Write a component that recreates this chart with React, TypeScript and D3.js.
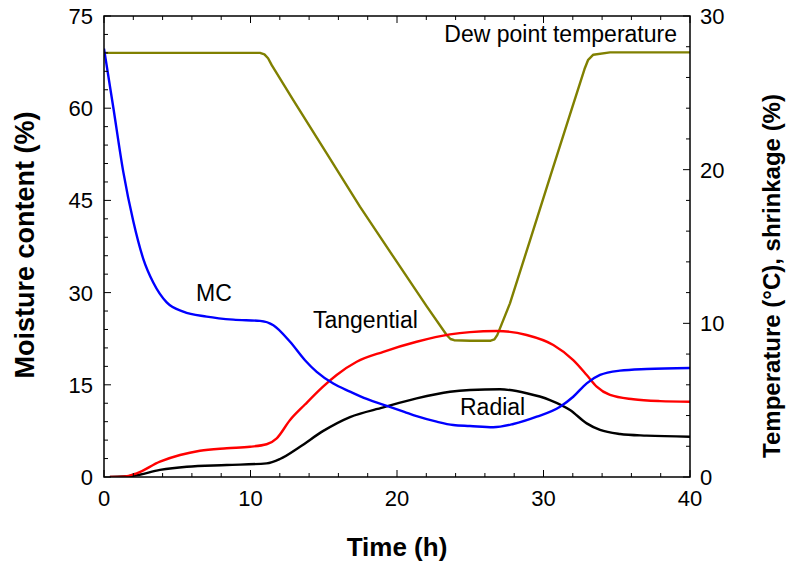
import React from "react";
import * as d3 from "d3";

const timeMC = [0, 0.63, 1.32, 2.0, 2.68, 3.37, 4.28, 5.41, 7.01, 8.83, 10.65, 11.56, 12.7, 13.72, 14.52, 15.65, 16.79, 17.93, 19.41, 20.5, 21.34, 22.71, 23.84, 24.98, 26.57, 27.94, 29.54, 31.13, 32.03, 32.95, 33.86, 35.22, 37.04, 40];
const mcValues = [69.7, 60.2, 49.6, 41.6, 35.5, 31.6, 28.4, 26.9, 26.1, 25.6, 25.4, 24.7, 22.0, 19.0, 17.1, 15.2, 13.9, 12.7, 11.5, 10.6, 9.9, 9.0, 8.46, 8.3, 8.09, 8.62, 9.81, 11.44, 13.06, 15.24, 16.6, 17.3, 17.57, 17.73];

const timeTan = [0.4, 1.32, 2.23, 3.82, 5.19, 6.55, 8.38, 9.97, 11.1, 11.79, 12.7, 13.7, 14.97, 15.88, 17.25, 19.07, 21.34, 23.62, 24.98, 26.8, 28.85, 30.67, 32.03, 32.95, 33.63, 34.54, 36.13, 37.95, 40];
const tangential = [0, 0.02, 0.24, 1.0, 1.43, 1.71, 1.87, 1.97, 2.13, 2.52, 3.71, 4.7, 5.9, 6.64, 7.5, 8.15, 8.8, 9.28, 9.43, 9.5, 9.24, 8.59, 7.61, 6.64, 5.88, 5.34, 5.06, 4.94, 4.9];

const timeRad = [0.4, 2.0, 3.82, 5.65, 8.38, 11.1, 12.01, 13.38, 14.97, 16.79, 19.07, 21.34, 23.62, 24.98, 27.03, 28.85, 30.44, 31.81, 32.95, 33.86, 35.22, 37.04, 40];
const radial = [0, 0.08, 0.46, 0.67, 0.78, 0.89, 1.17, 1.97, 3.0, 3.9, 4.53, 5.12, 5.55, 5.66, 5.71, 5.45, 5.01, 4.36, 3.49, 3.06, 2.8, 2.69, 2.62];

const timeDew = [0.07, 10.65, 10.95, 11.2, 11.45, 12.92, 15.2, 17.47, 19.75, 22.03, 23.39, 23.65, 23.9, 24.98, 26.4, 26.65, 26.85, 27.71, 29.08, 30.44, 31.81, 32.8, 33.05, 33.4, 34.54, 40];
const dewPoint = [27.6, 27.6, 27.5, 27.25, 26.8, 24.53, 21.06, 17.59, 14.34, 11.1, 9.24, 8.98, 8.9, 8.87, 8.87, 8.95, 9.25, 11.3, 15.4, 19.5, 23.6, 26.55, 27.15, 27.48, 27.63, 27.63];

const xTicks = [0, 10, 20, 30, 40];
const leftTicks = [0, 15, 30, 45, 60, 75];
const rightTicks = [0, 10, 20, 30];

const W = 788, H = 567;
const L = 104, R = 690, T = 16, B = 477;
const FONT = "'Liberation Sans', Arial, Helvetica, sans-serif";

export default function App() {
  const x = d3.scaleLinear().domain([0, 40]).range([L, R]);
  const yL = d3.scaleLinear().domain([0, 75]).range([B, T]);
  const yR = d3.scaleLinear().domain([0, 30]).range([B, T]);

  const mk = (ts: number[], vs: number[], ys: d3.ScaleLinear<number, number>, curve: any) =>
    d3.line<number>().x((_, i) => x(ts[i])).y((v) => ys(v)).curve(curve)(vs) || "";

  const xMinor = d3.range(0, 40.001, 2);
  const lMinor = d3.range(0, 75.001, 3);
  const rMinor = d3.range(0, 30.001, 2);

  const tickLen = (major: boolean) => (major ? 7 : 4);

  return (
    <svg width={W} height={H} style={{ position: "absolute", left: 0, top: 0, background: "#fff" }} fontFamily={FONT}>
      <defs>
        <clipPath id="plot">
          <rect x={L} y={T} width={R - L} height={B - T} />
        </clipPath>
      </defs>
      <g clipPath="url(#plot)" fill="none" strokeWidth={2.4} strokeLinejoin="round">
        <path d={mk(timeDew, dewPoint, yR, d3.curveLinear)} stroke="#808000" />
        <path d={mk(timeRad, radial, yR, d3.curveMonotoneX)} stroke="#000" />
        <path d={mk(timeTan, tangential, yR, d3.curveMonotoneX)} stroke="#ff0000" />
        <path d={mk(timeMC, mcValues, yL, d3.curveMonotoneX)} stroke="#0000ff" />
      </g>
      <rect x={L} y={T} width={R - L} height={B - T} fill="none" stroke="#000" strokeWidth={1.5} />
      {xMinor.map((v) => {
        const major = v % 10 === 0;
        const len = tickLen(major);
        return (
          <g key={"x" + v} stroke="#000" strokeWidth={1}>
            <line x1={x(v)} x2={x(v)} y1={B} y2={B - len} />
            <line x1={x(v)} x2={x(v)} y1={T} y2={T + len} />
          </g>
        );
      })}
      {lMinor.map((v) => {
        const major = v % 15 === 0;
        return <line key={"l" + v} x1={L} x2={L + tickLen(major)} y1={yL(v)} y2={yL(v)} stroke="#000" strokeWidth={1} />;
      })}
      {rMinor.map((v) => {
        const major = v % 10 === 0;
        return <line key={"r" + v} x1={R} x2={R - tickLen(major)} y1={yR(v)} y2={yR(v)} stroke="#000" strokeWidth={1} />;
      })}
      <g fontSize={22} fill="#000">
        {xTicks.map((v) => (
          <text key={"xl" + v} x={x(v)} y={B + 29} textAnchor="middle">{v}</text>
        ))}
        {leftTicks.map((v) => (
          <text key={"ll" + v} x={L - 11} y={yL(v)} dy="0.36em" textAnchor="end">{v}</text>
        ))}
        {rightTicks.map((v) => (
          <text key={"rl" + v} x={R + 10} y={yR(v)} dy="0.36em" textAnchor="start">{v}</text>
        ))}
      </g>
      <g fontSize={23} fill="#000">
        <text x={214} y={301} textAnchor="middle">MC</text>
        <text x={313} y={328}>Tangential</text>
        <text x={460} y={415}>Radial</text>
        <text x={677} y={42} textAnchor="end">Dew point temperature</text>
      </g>
      <g fontWeight="bold" fill="#000">
        <text x={397} y={556} textAnchor="middle" fontSize={26}>Time (h)</text>
        <text transform={`translate(34,245) rotate(-90)`} textAnchor="middle" fontSize={27}>Moisture content (%)</text>
        <text transform={`translate(780,276) rotate(-90)`} textAnchor="middle" fontSize={24}>Temperature (°C), shrinkage (%)</text>
      </g>
    </svg>
  );
}
